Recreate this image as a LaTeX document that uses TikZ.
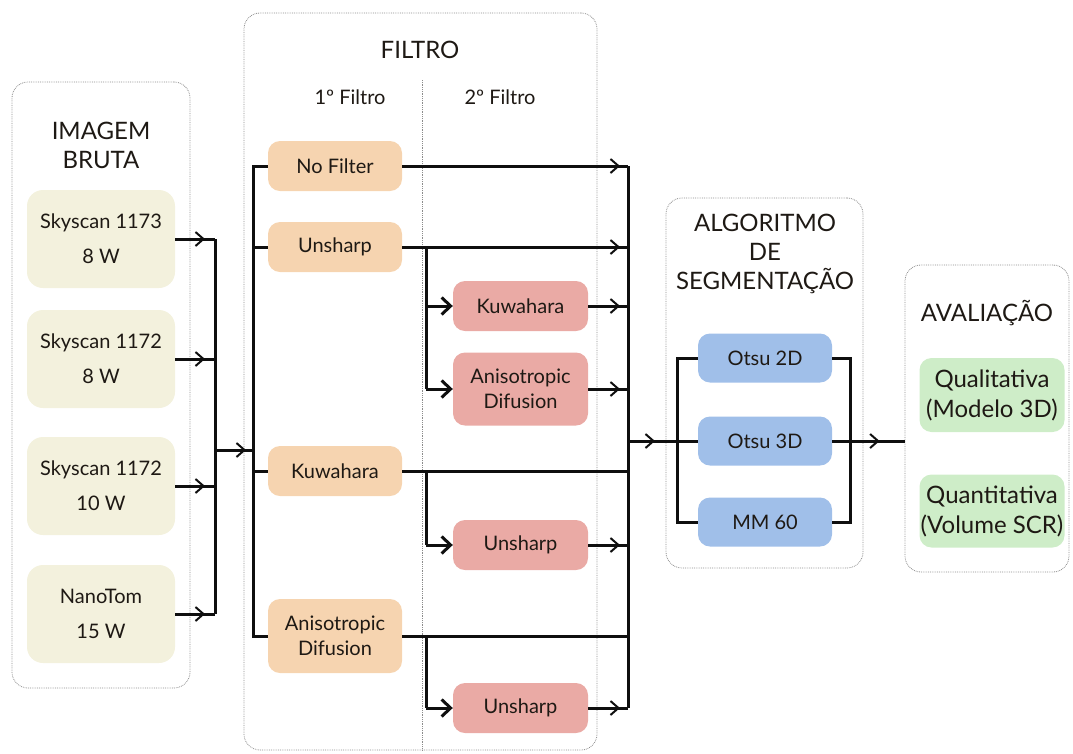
\documentclass[tikz,border=0pt]{standalone}
\usepackage{fontspec}
\setmainfont{Lato}
\usetikzlibrary{arrows.meta,decorations.markings}
\definecolor{txt}{RGB}{30,25,20}
\definecolor{cream}{RGB}{243,241,221}
\definecolor{peach}{RGB}{246,212,176}
\definecolor{salmon}{RGB}{234,170,165}
\definecolor{skyb}{RGB}{160,191,233}
\definecolor{mint}{RGB}{206,237,200}
\definecolor{framec}{RGB}{140,140,140}
\definecolor{linec}{RGB}{15,15,15}
\begin{document}
\begin{tikzpicture}[x=1pt,y=-1pt,
  every node/.style={text=txt},
  container/.style={draw=framec, densely dotted, line width=0.8pt, rounded corners=16pt, inner sep=0pt},
  box/.style={rounded corners=12pt, inner sep=0pt, align=center, font=\fontsize{20}{25}\selectfont},
  ybox/.style={box, fill=cream, minimum width=148pt, minimum height=98pt, font=\fontsize{20}{35}\selectfont, rounded corners=16pt},
  obox/.style={box, fill=peach, minimum width=134pt, minimum height=50pt},
  rbox/.style={box, fill=salmon, minimum width=135pt, minimum height=50pt},
  bbox/.style={box, fill=skyb, minimum width=134pt, minimum height=49pt},
  gbox/.style={box, fill=mint, minimum width=145pt, minimum height=74pt, font=\fontsize{24}{30}\selectfont},
  title/.style={align=center, font=\fontsize{24}{29}\selectfont},
  subtitle/.style={font=\fontsize{20}{24}\selectfont},
  conn/.style={draw=linec, line width=3pt},
  barb/.style={postaction={decorate}, decoration={markings, mark=at position #1 with {\arrow{Straight Barb[length=8pt,width=14pt,line width=2pt]}}}},
  bigarrow/.style={-{Straight Barb[length=9pt,width=17pt,line width=3pt]}}
]
\useasboundingbox (0,0) rectangle (1073,753);

% containers
\node[container, minimum width=178pt, minimum height=606pt] (img) at (101,385) {};
\node[container, minimum width=353pt, minimum height=737pt] (filt) at (420.5,381.5) {};
\node[container, minimum width=197pt, minimum height=370pt] (alg) at (764.5,383) {};
\node[container, minimum width=164pt, minimum height=307pt] (ava) at (987,418.5) {};
\draw[draw=framec, densely dotted, line width=0.8pt] (422,80) -- (422,0 |- filt.south);

% titles
\node[title] (timg) at (101,145) {IMAGEM\\BRUTA};
\node[title] (tfilt) at (420,50) {FILTRO};
\node[subtitle] (tf1) at (350,97) {1º Filtro};
\node[subtitle] (tf2) at (500,97) {2º Filtro};
\node[title] (talg) at (765,254) {ALGORITMO\\DE\\SEGMENTAÇÃO};
\node[title] (tava) at (987,313) {AVALIAÇÃO};

% raw images
\node[ybox] (y1) at (101,239) {Skyscan 1173\\8 W};
\node[ybox] (y2) at (101,359) {Skyscan 1172\\8 W};
\node[ybox] (y3) at (101,486) {Skyscan 1172\\10 W};
\node[ybox] (y4) at (101,614) {NanoTom\\15 W};

% first filter
\node[obox] (nf) at (335,166) {No Filter};
\node[obox] (un1) at (335,247) {Unsharp};
\node[obox] (ku1) at (335,471) {Kuwahara};
\node[obox, minimum height=74pt] (ad1) at (335,636) {Anisotropic\\Difusion};

% second filter
\node[rbox] (ku2) at (520.5,306) {Kuwahara};
\node[rbox, minimum height=73pt] (ad2) at (520.5,389) {Anisotropic\\Difusion};
\node[rbox] (un2) at (520.5,545) {Unsharp};
\node[rbox] (un3) at (520.5,708) {Unsharp};

% segmentation
\node[bbox] (o2) at (765,358) {Otsu 2D};
\node[bbox] (o3) at (765,441) {Otsu 3D};
\node[bbox] (mm) at (765,522) {MM 60};

% evaluation
\node[gbox] (ql) at (992,395) {Qualitativa\\(Modelo 3D)};
\node[gbox, minimum height=73pt] (qt) at (992,511) {Quantitativa\\(Volume SCR)};

% bus coordinates
\coordinate (ibus) at (215,0);
\coordinate (lbus) at (253,0);
\coordinate (sbus) at (426,0);
\coordinate (rbus) at (628,0);
\coordinate (abl) at (677,0);
\coordinate (abr) at (850,0);
\coordinate (ijoin) at (215,450);

% raw images -> bus
\foreach \n in {y1,y2,y3,y4}
  \draw[conn, barb=-10pt] (\n.east) -- (\n.east -| ibus);
\draw[conn] (y1.east -| ibus) -- (y4.east -| ibus);
\draw[conn, barb=-7pt] (ijoin) -- (ijoin -| lbus);

% first filter bus
\draw[conn, line join=miter] (nf.west) -- (nf.west -| lbus) -- (ad1.west -| lbus) -- (ad1.west);
\draw[conn] (un1.west -| lbus) -- (un1.west);
\draw[conn] (ku1.west -| lbus) -- (ku1.west);

% to right bus
\draw[conn, barb=-8pt] (nf.east) -- (nf.east -| rbus);
\draw[conn, barb=-8pt] (un1.east) -- (un1.east -| rbus);
\draw[conn, barb=-8pt] (ku2.east) -- (ku2.east -| rbus);
\draw[conn, barb=-8pt] (ad2.east) -- (ad2.east -| rbus);
\draw[conn] (ku1.east) -- (ku1.east -| rbus);
\draw[conn, barb=-8pt] (un2.east) -- (un2.east -| rbus);
\draw[conn] (ad1.east) -- (ad1.east -| rbus);
\draw[conn, barb=-8pt] (un3.east) -- (un3.east -| rbus);
\draw[conn] (nf.east -| rbus) -- (un3.east -| rbus);

% second filter branches
\draw[conn] (un1.east -| sbus) -- (ad2.west -| sbus);
\draw[conn, bigarrow] (ku2.west -| sbus) -- (ku2.west);
\draw[conn, bigarrow] (ad2.west -| sbus) -- (ad2.west);
\draw[conn] (ku1.east -| sbus) -- (un2.west -| sbus);
\draw[conn, bigarrow] (un2.west -| sbus) -- (un2.west);
\draw[conn] (ad1.east -| sbus) -- (un3.west -| sbus);
\draw[conn, bigarrow] (un3.west -| sbus) -- (un3.west);

% segmentation
\draw[conn, barb=27pt] (o3.west -| rbus) -- (o3.west);
\draw[conn, line join=miter] (o2.west) -- (o2.west -| abl) -- (mm.west -| abl) -- (mm.west);
\draw[conn, line join=miter] (o2.east) -- (o2.east -| abr) -- (mm.east -| abr) -- (mm.east);
\draw[conn, barb=-25pt] (o3.east) -- (o3.east -| ava.west);
\end{tikzpicture}
\end{document}
